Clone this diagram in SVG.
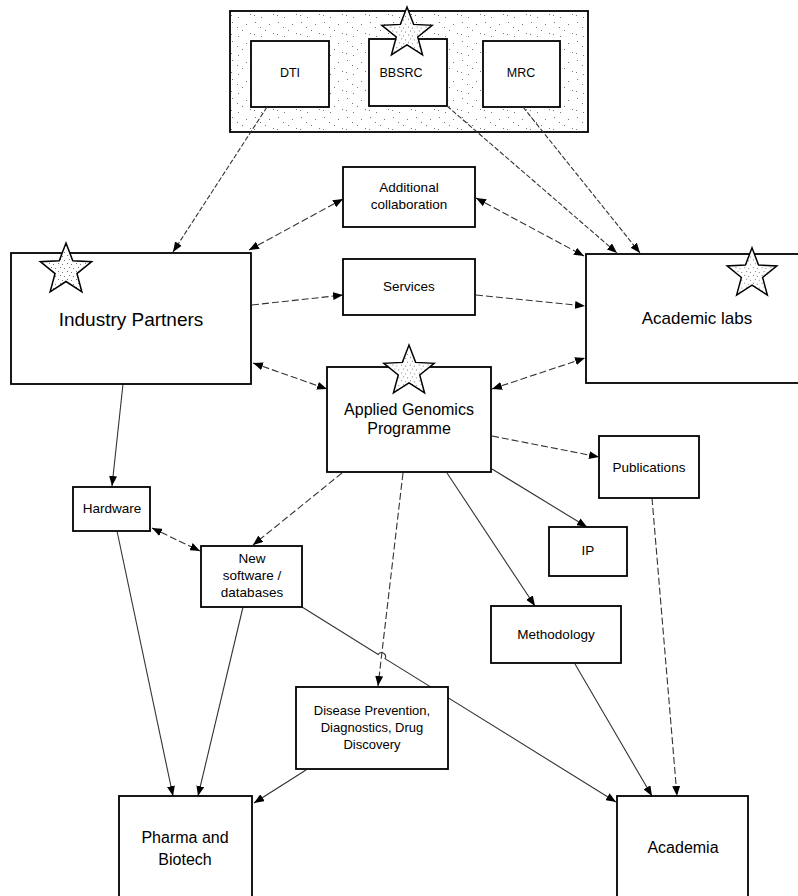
<svg xmlns="http://www.w3.org/2000/svg" xmlns:xlink="http://www.w3.org/1999/xlink" width="798" height="896" viewBox="0 0 798 896">
<style>
.box{fill:#fff;stroke:#000;stroke-width:1.8}
.lbl{font-family:"Liberation Sans",Arial,sans-serif;fill:#000;text-anchor:middle}
.s{font-size:13.5px}
.m{font-size:16px}
.l{font-size:17px}
.c{fill:none;stroke:#333;stroke-width:1.1}
.d{stroke-dasharray:7 3}
.d2{stroke-dasharray:5 2}
.star{stroke:#000;stroke-width:1.5;fill:url(#dots2)}
</style>
<defs>
<pattern id="dots" width="23" height="19" patternUnits="userSpaceOnUse">
<rect width="23" height="19" fill="#fff"/>
<g fill="#777">
<rect x="2" y="3" width="1" height="1"/><rect x="16" y="5" width="1" height="1"/>
<rect x="12" y="11" width="1" height="1"/><rect x="20" y="14" width="1" height="1"/>
<rect x="1" y="15" width="1" height="1"/><rect x="8" y="17" width="1" height="1"/>
<rect x="7" y="8" width="1" height="1"/>
</g>
</pattern>
<pattern id="dots2" width="9" height="8" patternUnits="userSpaceOnUse">
<rect width="9" height="8" fill="#fff"/>
<g fill="#777">
<rect x="1" y="1" width="1" height="1"/><rect x="5" y="2" width="1" height="1"/><rect x="3" y="5" width="1" height="1"/><rect x="7" y="6" width="1" height="1"/>
</g>
</pattern>
<polygon id="starshape" points="0,-27 6.76,-9.3 25.68,-8.34 10.94,3.55 15.87,21.84 0,11.5 -15.87,21.84 -10.94,3.55 -25.68,-8.34 -6.76,-9.3"/>
<marker id="ah" markerWidth="10" markerHeight="8" refX="10" refY="4" orient="auto-start-reverse" markerUnits="userSpaceOnUse">
<path d="M0,0 L10,4 L0,8 z" fill="#000"/>
</marker>
</defs>

<rect width="798" height="896" fill="#fff"/>

<g id="funders">
<rect x="230" y="11" width="358" height="121" fill="url(#dots)" stroke="#000" stroke-width="1.8"/>
</g>
<g id="dti"><rect class="box" x="251" y="41" width="78" height="66"/><text class="lbl" x="290" y="77" font-size="12.5">DTI</text></g>
<g id="bbsrc"><rect class="box" x="369" y="39" width="78" height="67"/><text class="lbl" x="401" y="77" font-size="12.5">BBSRC</text>
<use xlink:href="#starshape" class="star" transform="translate(407,33.5) scale(0.98)"/></g>
<g id="mrc"><rect class="box" x="483" y="41" width="77" height="66"/><text class="lbl" x="521" y="77" font-size="12.5">MRC</text></g>

<g id="connectors">
<path class="c d2" d="M267,107 L173,252" marker-end="url(#ah)"/>
<path class="c d2" d="M447,106 L617,253" marker-end="url(#ah)"/>
<path class="c d2" d="M523,107 L640,253" marker-end="url(#ah)"/>
<path class="c d" d="M343,199 L249,250" marker-start="url(#ah)" marker-end="url(#ah)"/>
<path class="c d" d="M476,198 L584,256" marker-start="url(#ah)" marker-end="url(#ah)"/>
<path class="c d" d="M252,305 L343,295" marker-end="url(#ah)"/>
<path class="c d" d="M476,295 L585,306" marker-end="url(#ah)"/>
<path class="c d" d="M253,363 L327,389" marker-start="url(#ah)" marker-end="url(#ah)"/>
<path class="c d" d="M492,389 L585,358" marker-start="url(#ah)" marker-end="url(#ah)"/>
<path class="c" d="M123,384 L112,486" marker-end="url(#ah)"/>
<path class="c d" d="M152,528 L200,551" marker-start="url(#ah)" marker-end="url(#ah)"/>
<path class="c d" d="M342,473 L253,545" marker-end="url(#ah)"/>
<path class="c d" d="M403,473 L378,686" marker-end="url(#ah)"/>
<path class="c" d="M302,607 L378.2,654.4 A4,4 0 0 1 385,658.6 L616,802" marker-end="url(#ah)"/>
<path class="c" d="M243,607 L198,796" marker-end="url(#ah)"/>
<path class="c" d="M117,531 L173,796" marker-end="url(#ah)"/>
<path class="c" d="M306,770 L254,803" marker-end="url(#ah)"/>
<path class="c d" d="M492,436 L599,457" marker-end="url(#ah)"/>
<path class="c" d="M492,469 L587,527" marker-end="url(#ah)"/>
<path class="c" d="M447,473 L535,606" marker-end="url(#ah)"/>
<path class="c" d="M575,664 L652,796" marker-end="url(#ah)"/>
<path class="c d" d="M652,498 L677,796" marker-end="url(#ah)"/>
</g>

<g id="addcollab"><rect class="box" x="343" y="167" width="132" height="60"/>
<text class="lbl s" x="409" y="192">Additional</text><text class="lbl s" x="409" y="209">collaboration</text></g>
<g id="services"><rect class="box" x="343" y="259" width="132" height="56"/><text class="lbl s" x="409" y="291">Services</text></g>

<g id="industry"><rect class="box" x="11" y="253" width="240" height="131"/>
<use xlink:href="#starshape" class="star" transform="translate(66,270)"/>
<text class="lbl" x="131" y="326" font-size="19">Industry Partners</text></g>

<g id="academiclabs"><rect class="box" x="586" y="254" width="220" height="129"/>
<use xlink:href="#starshape" class="star" transform="translate(752,274) scale(0.97)"/>
<text class="lbl l" x="697" y="324">Academic labs</text></g>

<g id="agp"><rect class="box" x="327" y="367" width="164" height="105"/>
<use xlink:href="#starshape" class="star" transform="translate(409,371.5) scale(0.98)"/>
<text class="lbl m" x="409" y="415">Applied Genomics</text><text class="lbl m" x="409" y="434">Programme</text></g>

<g id="hardware"><rect class="box" x="73" y="487" width="77" height="44"/><text class="lbl s" x="112" y="513">Hardware</text></g>
<g id="newsoftware"><rect class="box" x="201" y="546" width="101" height="61"/>
<text class="lbl s" x="252" y="563">New</text><text class="lbl s" x="252" y="580">software /</text><text class="lbl s" x="252" y="597">databases</text></g>
<g id="publications"><rect class="box" x="599" y="436" width="100" height="62"/><text class="lbl s" x="649" y="472">Publications</text></g>
<g id="ip"><rect class="box" x="549" y="527" width="78" height="49"/><text class="lbl s" x="588" y="555">IP</text></g>
<g id="methodology"><rect class="box" x="491" y="606" width="130" height="57"/><text class="lbl s" x="556" y="639">Methodology</text></g>
<g id="disease"><rect class="box" x="296" y="687" width="152" height="82"/>
<text class="lbl" font-size="13" x="372" y="715">Disease Prevention,</text><text class="lbl" font-size="13" x="372" y="732">Diagnostics, Drug</text><text class="lbl" font-size="13" x="372" y="749">Discovery</text></g>
<g id="pharma"><rect class="box" x="119" y="796" width="133" height="110"/>
<text class="lbl m" x="185" y="843">Pharma and</text><text class="lbl m" x="185" y="865">Biotech</text></g>
<g id="academia"><rect class="box" x="617" y="796" width="131" height="110"/><text class="lbl m" x="683" y="853">Academia</text></g>
</svg>
